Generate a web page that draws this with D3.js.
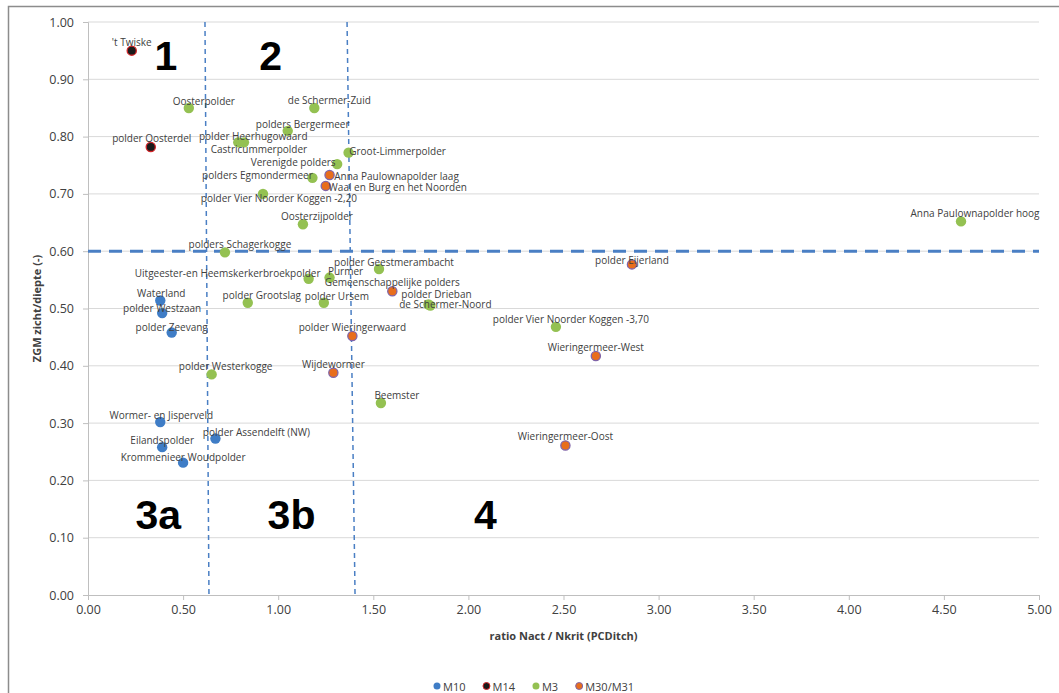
<!DOCTYPE html>
<html>
<head>
<meta charset="utf-8">
<script src="https://cdn.jsdelivr.net/npm/d3@7/dist/d3.min.js"></script>
<style>
  html, body { margin: 0; padding: 0; background: #fff; }
  svg { display: block; }
</style>
</head>
<body>
<div id="chart"></div>
<script>
// Polders: ratio Nact/Nkrit (PCDitch) against ZGM zicht/diepte
const names = [
  "'t Twiske", "polder Oosterdel",
  "Oosterpolder", "de Schermer-Zuid", "polders Bergermeer", "polder Heerhugowaard",
  "Castricummerpolder", "Groot-Limmerpolder", "Verenigde polders", "polders Egmondermeer",
  "Anna Paulownapolder laag", "Waal en Burg en het Noorden", "polder Vier Noorder Koggen -2,20",
  "Oosterzijpolder", "polders Schagerkogge", "polder Geestmerambacht", "Anna Paulownapolder hoog",
  "Uitgeester-en Heemskerkerbroekpolder", "Purmer", "Gemeenschappelijke polders",
  "polder Grootslag", "polder Ursem", "Waterland", "polder Westzaan", "polder Zeevang",
  "polder Wieringerwaard", "polder Westerkogge", "Wijdewormer", "Beemster",
  "Wormer- en Jisperveld", "polder Assendelft (NW)", "Eilandspolder", "Krommenieer Woudpolder",
  "polder Drieban", "de Schermer-Noord", "polder Eijerland", "polder Vier Noorder Koggen -3,70",
  "Wieringermeer-West", "Wieringermeer-Oost"
];
const ratio = [
  0.23, 0.33,
  0.53, 1.19, 1.05, 0.79,
  0.82, 1.37, 1.31, 1.18,
  1.27, 1.25, 0.92,
  1.13, 0.72, 1.53, 4.59,
  1.16, 1.27, 1.60,
  0.84, 1.24, 0.38, 0.39, 0.44,
  1.39, 0.65, 1.29, 1.54,
  0.38, 0.67, 0.39, 0.50,
  1.79, 1.80, 2.86, 2.46,
  2.67, 2.51
];
const zgm = [
  0.95, 0.782,
  0.85, 0.85, 0.81, 0.79,
  0.79, 0.772, 0.752, 0.728,
  0.733, 0.714, 0.70,
  0.647, 0.598, 0.569, 0.652,
  0.552, 0.554, 0.530,
  0.51, 0.51, 0.514, 0.492, 0.458,
  0.452, 0.385, 0.388, 0.335,
  0.302, 0.273, 0.258, 0.231,
  0.507, 0.505, 0.577, 0.468,
  0.417, 0.261
];
const group = [
  "M14", "M14",
  "M3", "M3", "M3", "M3",
  "M3", "M3", "M3", "M3",
  "M30/M31", "M30/M31", "M3",
  "M3", "M3", "M3", "M3",
  "M3", "M3", "M30/M31",
  "M3", "M3", "M10", "M10", "M10",
  "M30/M31", "M3", "M30/M31", "M3",
  "M10", "M10", "M10", "M10",
  "M3", "M3", "M30/M31", "M3",
  "M30/M31", "M30/M31"
];
const seriesNames = ["M10", "M14", "M3", "M30/M31"];
const xTicks = [0, 0.5, 1, 1.5, 2, 2.5, 3, 3.5, 4, 4.5, 5];
const yTicks = [0, 0.1, 0.2, 0.3, 0.4, 0.5, 0.6, 0.7, 0.8, 0.9, 1.0];

// Class boundaries: ZGM threshold and two sloping ratio limits (top value, bottom value)
const zgmLimit = 0.6;
const ratioLimits = [[0.615, 0.636], [1.362, 1.404]];
const classNames = ["1", "2", "3a", "3b", "4"];
const classAt = [[0.41, 0.94], [0.96, 0.94], [0.37, 0.14], [1.07, 0.14], [2.09, 0.14]];

// Data label placement (pixel offset of label centre from its marker)
const labelShift = [
  [0, -9], [1, -9],
  [15, -7], [15, -8], [15, -7], [15, -6],
  [15, 7], [49, -2], [-44, -2], [-55, -3],
  [67, 1], [72, 1], [16, 4],
  [14, -8], [15, -8], [15, -7], [14, -8],
  [-81, -6], [16, -7], [0, -9],
  [14, -8], [13, -7], [1, -7], [0, -5], [0, -6],
  [0, -9], [14, -8], [0, -9], [16, -8],
  [1, -7], [41, -7], [0, -7], [0, -6],
  [8, -10], [15, -2], [0, -4], [15, -8],
  [0, -9], [0, -9]
];

const W = 1059, H = 693;
const margin = { left: 88, right: 20, top: 22, bottom: 98 };

const svg = d3.select("#chart").append("svg").attr("width", W).attr("height", H);

// Outer chart frame
svg.append("rect")
  .attr("x", 8.5).attr("y", 6.5)
  .attr("width", W + 10).attr("height", H + 10)
  .attr("fill", "#fff").attr("stroke", "#8c8c8c").attr("stroke-width", 1.5);

const x = d3.scaleLinear().domain([0, 5]).range([margin.left, W - margin.right]);
const y = d3.scaleLinear().domain([0, 1]).range([H - margin.bottom, margin.top]);

const labelFont = "'Open Sans', 'DejaVu Sans', sans-serif";

// Horizontal gridlines
svg.append("g")
  .selectAll("line").data(yTicks.filter(t => t > 0)).join("line")
  .attr("x1", x(0)).attr("x2", x(5))
  .attr("y1", d => y(d)).attr("y2", d => y(d))
  .attr("stroke", "#d9d9d9").attr("stroke-width", 1);

// Y axis
const yAxis = svg.append("g")
  .attr("transform", `translate(${x(0)},0)`)
  .call(d3.axisLeft(y).tickValues(yTicks).tickFormat(d3.format(".2f")).tickSize(5).tickPadding(9));
yAxis.select(".domain").attr("stroke", "#bfbfbf");
yAxis.selectAll(".tick line").attr("stroke", "#bfbfbf");
yAxis.selectAll("text").attr("font-family", labelFont).attr("font-size", 12.5).attr("fill", "#404040");

// X axis
const xAxis = svg.append("g")
  .attr("transform", `translate(0,${y(0)})`)
  .call(d3.axisBottom(x).tickValues(xTicks).tickFormat(d3.format(".2f")).tickSize(5).tickPadding(5));
xAxis.select(".domain").attr("stroke", "#bfbfbf");
xAxis.selectAll(".tick line").attr("stroke", "#bfbfbf");
xAxis.selectAll("text").attr("font-family", labelFont).attr("font-size", 12.5).attr("fill", "#404040");

// Axis titles
svg.append("text")
  .attr("x", x(2.5)).attr("y", 640)
  .attr("text-anchor", "middle")
  .attr("font-family", labelFont).attr("font-size", 11).attr("font-weight", "bold")
  .attr("fill", "#404040")
  .text("ratio Nact / Nkrit (PCDitch)");

svg.append("text")
  .attr("transform", `translate(41,${y(0.5)}) rotate(-90)`)
  .attr("text-anchor", "middle")
  .attr("font-family", labelFont).attr("font-size", 11).attr("font-weight", "bold")
  .attr("fill", "#404040")
  .text("ZGM zicht/diepte (-)");

// Class boundary lines
const boundaryColor = "#4a7fc4";
svg.append("line")
  .attr("x1", x(0)).attr("x2", x(5))
  .attr("y1", y(zgmLimit)).attr("y2", y(zgmLimit))
  .attr("stroke", boundaryColor).attr("stroke-width", 3)
  .attr("stroke-dasharray", "13,8");

svg.append("g")
  .selectAll("line").data(ratioLimits).join("line")
  .attr("x1", d => x(d[0])).attr("y1", y(1))
  .attr("x2", d => x(d[1])).attr("y2", y(0))
  .attr("stroke", boundaryColor).attr("stroke-width", 1.5)
  .attr("stroke-dasharray", "5,4");

// Class names
svg.append("g")
  .selectAll("text").data(classNames).join("text")
  .attr("x", (d, i) => x(classAt[i][0]))
  .attr("y", (d, i) => y(classAt[i][1]))
  .attr("text-anchor", "middle")
  .attr("dominant-baseline", "central")
  .attr("font-family", "'Liberation Sans', Arial, sans-serif")
  .attr("font-size", 41).attr("font-weight", "bold")
  .attr("fill", "#000")
  .text(d => d);

// Marker styles per series
const fillOf = { "M10": "#3f7dc6", "M14": "#1a1a1a", "M3": "#94c152", "M30/M31": "#e86e1c" };
const strokeOf = { "M10": "none", "M14": "#d4262a", "M3": "none", "M30/M31": "#8064a8" };

const points = names.map((n, i) => ({ name: n, rx: ratio[i], zy: zgm[i], g: group[i], i }));
const ordered = seriesNames.flatMap(s => points.filter(p => p.g === s));

svg.append("g")
  .selectAll("circle").data(ordered).join("circle")
  .attr("cx", d => x(d.rx)).attr("cy", d => y(d.zy))
  .attr("r", d => (strokeOf[d.g] === "none" ? 5.2 : 4.6))
  .attr("fill", d => fillOf[d.g])
  .attr("stroke", d => strokeOf[d.g])
  .attr("stroke-width", 1.3);

// Data labels
svg.append("g")
  .selectAll("text").data(points).join("text")
  .attr("x", d => x(d.rx) + labelShift[d.i][0])
  .attr("y", d => y(d.zy) + labelShift[d.i][1])
  .attr("text-anchor", "middle")
  .attr("dominant-baseline", "central")
  .attr("font-family", labelFont).attr("font-size", 10)
  .attr("fill", "#404040")
  .text(d => d.name);

// Legend
const legend = svg.append("g").attr("transform", "translate(437,686)");
let lx = 0;
seriesNames.forEach(s => {
  const item = legend.append("g").attr("transform", `translate(${lx},0)`);
  item.append("circle").attr("cx", 0).attr("cy", 0).attr("r", 3.5)
    .attr("fill", fillOf[s])
    .attr("stroke", strokeOf[s]).attr("stroke-width", 1);
  const t = item.append("text").attr("x", 6).attr("y", 0)
    .attr("dominant-baseline", "central")
    .attr("font-family", labelFont).attr("font-size", 11)
    .attr("fill", "#404040").text(s);
  lx += 6 + t.node().getComputedTextLength() + 21;
});
</script>
</body>
</html>
